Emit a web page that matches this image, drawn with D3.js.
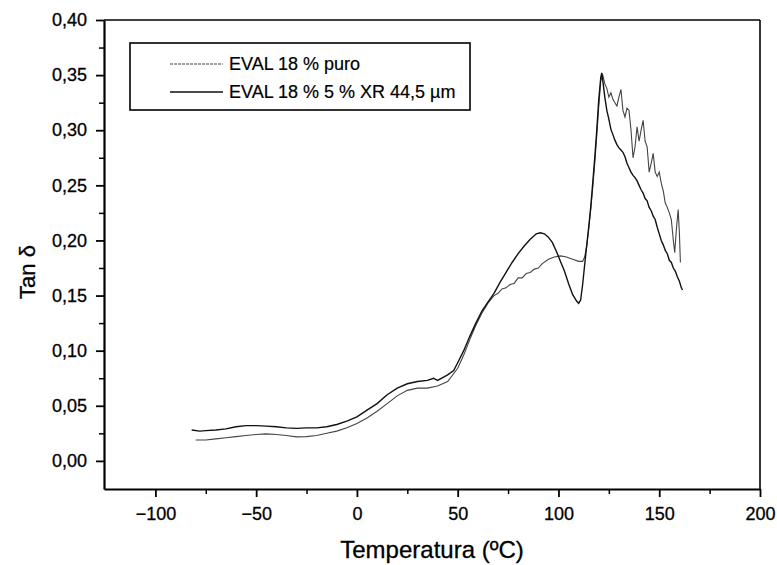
<!DOCTYPE html>
<html><head><meta charset="utf-8">
<script src="https://cdn.jsdelivr.net/npm/d3@7"></script>
<style>body{margin:0;background:#fff}svg{display:block}text{font-family:"Liberation Sans",Arial,sans-serif;fill:#000}</style>
</head><body><svg id="c" width="777" height="565"></svg>
<script>
const xTicks=[-100,-50,0,50,100,150,200];
const yTicks=[0,0.05,0.10,0.15,0.20,0.25,0.30,0.35,0.40];
const xMinorTicks=[-75,-25,25,75,125,175];
const yMinorTicks=[0.025,0.075,0.125,0.175,0.225,0.275,0.325,0.375];
const seriesNames=["EVAL 18 % puro","EVAL 18 % 5 % XR 44,5 \u00b5m"];

const tempPuro=[-80,-75,-70,-65,-60,-55,-50,-45,-40,-35,-30,-25,-20,-15,-10,-5,0,5,10,15,20,25,30,35,40,45,50,53,56,59,62,65,68,70,72,74,76,78,80,82,84,86,88,90,92,95,98,101,104,107,110,112,113,114,115,116,117,118,119,120,121,122,123,124,125,126,127,128,129,130,131,132,133,134,135,136,137,138,139,140,141,142,143,144,145,146,147,148,149,150,151,152,153,154,155,156,157,157.7,158.5,159.4,160,160.5];
const valPuro=[0.019,0.019,0.020,0.021,0.022,0.023,0.024,0.0245,0.024,0.023,0.0218,0.022,0.023,0.025,0.027,0.030,0.034,0.039,0.045,0.052,0.059,0.064,0.066,0.066,0.068,0.072,0.084,0.096,0.110,0.123,0.134,0.143,0.150,0.152,0.156,0.157,0.160,0.161,0.166,0.166,0.170,0.171,0.174,0.175,0.179,0.183,0.185,0.186,0.185,0.183,0.181,0.181,0.185,0.195,0.210,0.228,0.248,0.270,0.295,0.322,0.345,0.350,0.342,0.338,0.330,0.334,0.328,0.325,0.322,0.330,0.337,0.318,0.312,0.320,0.318,0.300,0.275,0.285,0.303,0.290,0.300,0.309,0.290,0.285,0.262,0.270,0.279,0.262,0.258,0.262,0.252,0.245,0.234,0.230,0.225,0.219,0.200,0.189,0.210,0.228,0.207,0.180];

const tempComp=[-82,-78,-75,-70,-65,-60,-55,-50,-45,-40,-35,-30,-25,-20,-15,-10,-5,0,5,10,15,20,25,30,35,38,40,43,45,48,50,53,56,59,62,65,68,71,74,77,80,83,86,89,91,93,95,97,99,101,103,105,107,109,110,111,112,113,114,115,116,117,118,119,120,121,121.5,122,123,124,125,126,127,128,129,130,131,132,133,134,135,136,137,138,139,140,141,142,143,144,145,146,147,148,149,150,151,152,153,154,155,156,157,158,159,160,161,161.5];
const valComp=[0.028,0.027,0.0275,0.028,0.029,0.031,0.032,0.032,0.0315,0.031,0.030,0.0295,0.030,0.030,0.031,0.033,0.036,0.040,0.046,0.052,0.060,0.066,0.070,0.072,0.073,0.075,0.073,0.076,0.078,0.082,0.089,0.100,0.113,0.125,0.136,0.144,0.152,0.162,0.171,0.180,0.188,0.195,0.201,0.206,0.207,0.206,0.203,0.198,0.190,0.181,0.172,0.161,0.151,0.145,0.143,0.146,0.160,0.178,0.195,0.212,0.230,0.252,0.275,0.300,0.328,0.348,0.352,0.345,0.330,0.318,0.310,0.301,0.296,0.291,0.287,0.284,0.282,0.280,0.276,0.270,0.266,0.262,0.259,0.257,0.254,0.250,0.246,0.243,0.238,0.236,0.230,0.227,0.222,0.219,0.212,0.206,0.200,0.196,0.191,0.188,0.182,0.180,0.175,0.172,0.167,0.163,0.157,0.155];

const svg=d3.select("#c");
const L=104,R=760,T=20,B=489;
const x=d3.scaleLinear([-125.5,200],[L,R]);
const y=d3.scaleLinear([-0.0255,0.40],[B,T]);
const fmtY=v=>d3.format(".2f")(v).replace(".",",");

// minor ticks
svg.append("g").attr("transform",`translate(0,${B})`)
  .call(d3.axisBottom(x).tickValues(xMinorTicks).tickSize(5).tickFormat("").tickSizeOuter(0))
  .call(g=>{g.select(".domain").remove();g.selectAll("line").attr("stroke-width",1.5);});
svg.append("g").attr("transform",`translate(${L},0)`)
  .call(d3.axisLeft(y).tickValues(yMinorTicks).tickSize(5).tickFormat("").tickSizeOuter(0))
  .call(g=>{g.select(".domain").remove();g.selectAll("line").attr("stroke-width",1.5);});

// frame top/right
svg.append("line").attr("x1",L).attr("x2",R).attr("y1",T).attr("y2",T).attr("stroke","#000").attr("stroke-width",1.6);
svg.append("line").attr("x1",R).attr("x2",R).attr("y1",T).attr("y2",B).attr("stroke","#000").attr("stroke-width",1.6);

const gx=svg.append("g").attr("transform",`translate(0,${B})`)
  .call(d3.axisBottom(x).tickValues(xTicks).tickSize(8).tickPadding(10).tickSizeOuter(0));
const gy=svg.append("g").attr("transform",`translate(${L},0)`)
  .call(d3.axisLeft(y).tickValues(yTicks).tickFormat(fmtY).tickSize(8).tickPadding(9).tickSizeOuter(0));
[gx,gy].forEach(g=>{
  g.select(".domain").attr("stroke-width",2.2);
  g.selectAll(".tick line").attr("stroke-width",1.8);
  g.selectAll(".tick text").attr("font-size",18).attr("font-family","Liberation Sans, Arial, sans-serif")
    .attr("stroke","#000").attr("stroke-width",0.3);
});

// axis titles
svg.append("text").attr("x",(L+R)/2).attr("y",558).attr("text-anchor","middle").attr("font-size",24)
  .attr("stroke","#000").attr("stroke-width",0.3).text("Temperatura (\u00baC)");
svg.append("text").attr("transform","translate(35,272) rotate(-90)").attr("text-anchor","middle").attr("font-size",22)
  .attr("stroke","#000").attr("stroke-width",0.3).text("Tan \u03b4");

// lines
const line=d3.line().x(d=>x(d[0])).y(d=>y(d[1]));
const puro=tempPuro.map((t,i)=>[t,valPuro[i]]);
const comp=tempComp.map((t,i)=>[t,valComp[i]]);
svg.append("path").datum(puro).attr("d",line).attr("fill","none").attr("stroke","#444").attr("stroke-width",1.1);
svg.append("path").datum(comp).attr("d",line).attr("fill","none").attr("stroke","#111").attr("stroke-width",1.4);

// legend
const lg=svg.append("g");
lg.append("rect").attr("x",130).attr("y",43).attr("width",340).attr("height",67).attr("fill","#fff").attr("stroke","#000").attr("stroke-width",1.6);
const styles=[{c:"#444",w:1.1,dash:"3,1"},{c:"#111",w:1.4,dash:null}];
seriesNames.forEach((n,i)=>{
  const yy=64+i*28;
  lg.append("line").attr("x1",170).attr("x2",223).attr("y1",yy).attr("y2",yy).attr("stroke",styles[i].c).attr("stroke-width",styles[i].w).attr("stroke-dasharray",styles[i].dash);
  lg.append("text").attr("x",229).attr("y",yy+6).attr("font-size",18).attr("stroke","#000").attr("stroke-width",0.2).text(n);
});
</script></body></html>
